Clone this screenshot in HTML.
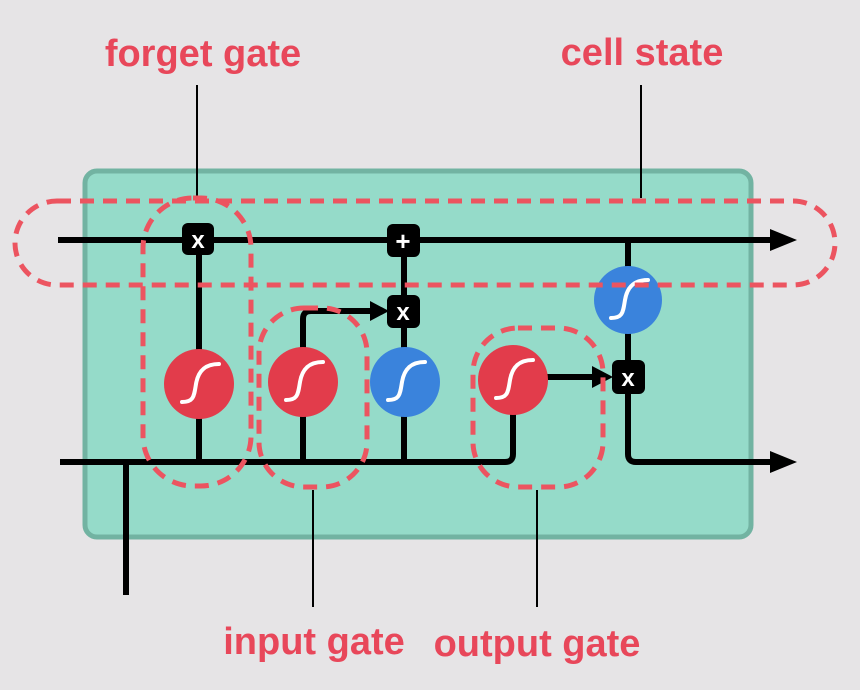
<!DOCTYPE html>
<html><head><meta charset="utf-8"><style>
html,body{margin:0;padding:0;background:#e6e4e6;}
svg{display:block}
text{font-family:"Liberation Sans",sans-serif;font-weight:bold;fill:#e8475a;font-size:38px}
</style></head><body>
<svg width="860" height="690" viewBox="0 0 860 690" xmlns="http://www.w3.org/2000/svg">
<defs>
<g id="sig"><path d="M-17,18 C-5,18 -5,12 -3,0 S5,-20 20,-20" fill="none" stroke="#fff" stroke-width="4" stroke-linecap="round"/></g>
</defs>
<rect width="860" height="690" fill="#e6e4e6"/>
<rect x="85" y="171" width="666" height="366" rx="12" fill="#95dbc9" stroke="#72b3a2" stroke-width="5"/>
<g stroke="#000" stroke-width="2">
<line x1="197" y1="85" x2="197" y2="200"/>
<line x1="641" y1="85" x2="641" y2="198"/>
<line x1="313" y1="490" x2="313" y2="607"/>
<line x1="537" y1="490" x2="537" y2="607"/>
</g>
<g stroke="#000" stroke-width="6" fill="none">
<line x1="58" y1="240" x2="788" y2="240"/>
<polygon points="770,229 797,240 770,251" fill="#000" stroke="none"/>
<path d="M60,462 L505,462 Q513,462 513,454 L513,380"/>
<line x1="126" y1="462" x2="126" y2="595"/>
<path d="M628,240 L628,454 Q628,462 636,462 L780,462"/>
<polygon points="770,451 797,462 770,473" fill="#000" stroke="none"/>
<line x1="199" y1="238" x2="199" y2="462"/>
<line x1="303" y1="382" x2="303" y2="462"/>
<line x1="404" y1="240" x2="404" y2="462"/>
<path d="M303,382 L303,319 Q303,311 311,311 L378,311"/>
<polygon points="370,301 389,311 370,321" fill="#000" stroke="none"/>
<line x1="546" y1="377" x2="600" y2="377"/>
<polygon points="592,366 613,377 592,388" fill="#000" stroke="none"/>
</g>
<circle cx="199" cy="384" r="35" fill="#e23c4b"/><use href="#sig" x="199" y="384"/>
<circle cx="303" cy="382" r="35" fill="#e23c4b"/><use href="#sig" x="303" y="382"/>
<circle cx="405" cy="382" r="35" fill="#3a83dc"/><use href="#sig" x="405" y="382"/>
<circle cx="513" cy="380" r="35" fill="#e23c4b"/><use href="#sig" x="513" y="380"/>
<circle cx="628" cy="300" r="34" fill="#3a83dc"/><use href="#sig" x="628" y="300"/>
<g>
<rect x="182" y="223" width="32" height="32" rx="6" fill="#000"/>
<text x="198" y="248" text-anchor="middle" style="fill:#fff;font-size:24px">x</text>
<rect x="387" y="224" width="33" height="33" rx="6" fill="#000"/>
<text x="403" y="250" text-anchor="middle" style="fill:#fff;font-size:26px">+</text>
<rect x="387" y="295" width="33" height="33" rx="6" fill="#000"/>
<text x="403" y="320" text-anchor="middle" style="fill:#fff;font-size:24px">x</text>
<rect x="612" y="360" width="33" height="34" rx="6" fill="#000"/>
<text x="628" y="386" text-anchor="middle" style="fill:#fff;font-size:24px">x</text>
</g>
<g fill="none" stroke="#ec5460" stroke-width="5" stroke-dasharray="14,9">
<rect x="15" y="201" width="820" height="84" rx="42"/>
<rect x="143" y="198" width="108" height="288" rx="50"/>
<rect x="259" y="308" width="108" height="179" rx="45"/>
<rect x="473" y="328" width="130" height="159" rx="45"/>
</g>
<text x="203" y="66" text-anchor="middle">forget gate</text>
<text x="642" y="65" text-anchor="middle">cell state</text>
<text x="314" y="654" text-anchor="middle">input gate</text>
<text x="537" y="656" text-anchor="middle">output gate</text>
</svg>
</body></html>
